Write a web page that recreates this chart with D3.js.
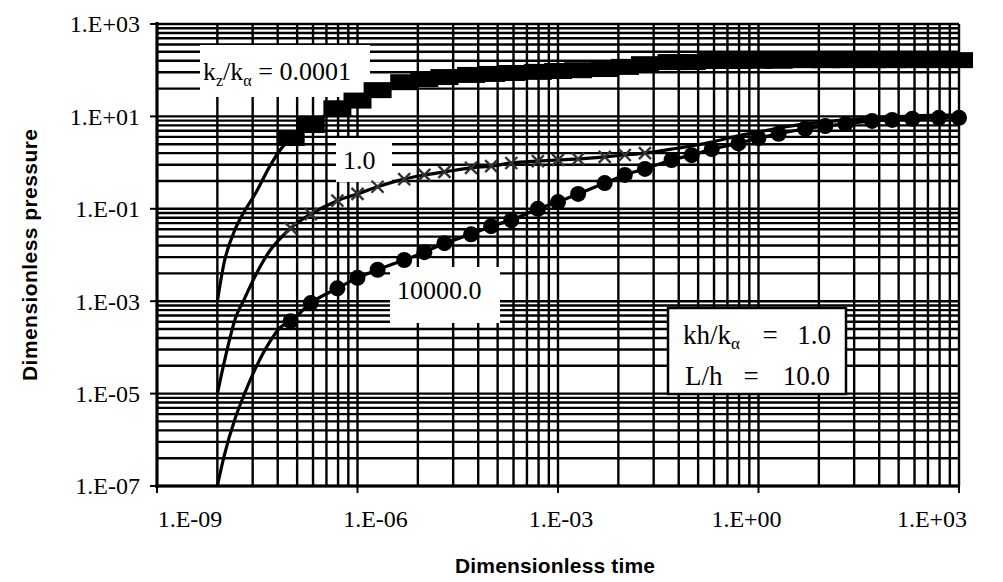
<!DOCTYPE html>
<html><head><meta charset="utf-8">
<script src="https://cdn.jsdelivr.net/npm/d3@7"></script>
<style>
body{margin:0;background:#fff}
.serif{font-family:"Liberation Serif";}
.sans{font-family:"Liberation Sans",Arial,Helvetica,sans-serif;font-weight:bold;}
</style>
</head><body>
<svg id="chart" width="1003" height="582"></svg>
<script>
// ---- axis data ----
const xMajor = [1e-9, 1e-6, 1e-3, 1, 1e3];
const xTickLabels = ["1.E-09", "1.E-06", "1.E-03", "1.E+00", "1.E+03"];
const yMajor = [1e-7, 1e-5, 1e-3, 1e-1, 1e1, 1e3];
const yTickLabels = ["1.E-07", "1.E-05", "1.E-03", "1.E-01", "1.E+01", "1.E+03"];
const minorK = [2, 3, 4, 5, 6, 7, 8, 9];

// ---- series data (dimensionless time / pressure) ----
const timeEarly = [8e-9, 1e-8, 1.5e-8, 2e-8, 3e-8, 5e-8, 7e-8];
const timeMarked = [1e-7, 2e-7, 5e-7, 1e-6, 2e-6, 5e-6, 1e-5, 2e-5, 5e-5, 1e-4, 2e-4, 5e-4,
  1e-3, 2e-3, 5e-3, 1e-2, 2e-2, 5e-2, 1e-1, 2e-1, 5e-1, 1, 2, 5, 10, 20, 50, 100, 200, 500, 1000];

// kz/ka = 0.0001
const pEarly_0001 = [1.0e-3, 6.4e-3, 0.038, 0.085, 0.22, 0.89, 1.9];
const pMarked_0001 = [3.4, 6.5, 15, 22, 37, 55, 64, 71, 79, 83, 87, 92, 96, 100, 106, 118, 135,
  150, 150, 158, 158, 160, 160, 165, 165, 165, 165, 165, 165, 165, 165];
// kz/ka = 1.0
const pEarly_1 = [1e-5, 4.4e-5, 4.4e-4, 1.07e-3, 3.7e-3, 0.013, 0.023];
const pMarked_1 = [0.038, 0.077, 0.15, 0.21, 0.30, 0.44, 0.54, 0.63, 0.77, 0.84, 0.98, 1.08, 1.14,
  1.2, 1.33, 1.46, 1.6, 1.96, 2.3, 2.8, 3.8, 4.6, 5.6, 6.9, 7.6, 8.4, 9.3, 9.8, 10.2, 10.7, 10.7];
const crossCount_1 = 17; // x markers drawn on the first 17 marked points
// kz/ka = 10000.0
const pEarly_10000 = [1e-7, 4.2e-7, 3.1e-6, 9.3e-6, 3.6e-5, 1.4e-4, 2.7e-4];
const pMarked_10000 = [3.7e-4, 9.1e-4, 1.9e-3, 3.2e-3, 4.8e-3, 7.8e-3, 0.0115, 0.018, 0.028, 0.042,
  0.057, 0.1, 0.14, 0.21, 0.36, 0.54, 0.73, 1.14, 1.45, 1.96, 2.6, 3.4, 4.2, 5.4, 6.2, 6.9, 8.0,
  8.4, 8.9, 9.3, 9.3];

const svg = d3.select("#chart");
const x = d3.scaleLog().domain([1e-9, 1e3]).range([157, 959]);
const y = d3.scaleLog().domain([1e-7, 1e3]).range([486, 24]);

svg.append("rect").attr("width", 1003).attr("height", 582).attr("fill", "#fff");

// ---- grid (minor lines at log fractions of each labelled block) ----
const xMinor = [], yMinor = [];
xMajor.slice(0, -1).forEach(a => minorK.forEach(k => xMinor.push(a * Math.pow(k, 3))));
yMajor.slice(0, -1).forEach(a => minorK.forEach(k => yMinor.push(a * Math.pow(k, 2))));

const grid = svg.append("g").attr("stroke", "#000");
grid.selectAll(".vx").data(xMinor.concat(xMajor)).enter().append("line")
  .attr("x1", d => x(d)).attr("x2", d => x(d))
  .attr("y1", y(1e-7)).attr("y2", y(1e3)).attr("stroke-width", 2.4);
grid.selectAll(".hy").data(yMinor.concat(yMajor)).enter().append("line")
  .attr("y1", d => y(d)).attr("y2", d => y(d))
  .attr("x1", x(1e-9)).attr("x2", x(1e3)).attr("stroke-width", 2.4);

// axes lines
svg.append("line").attr("x1", x(1e-9)).attr("x2", x(1e-9)).attr("y1", y(1e3) - 2).attr("y2", y(1e-7) + 2)
  .attr("stroke", "#000").attr("stroke-width", 3);
svg.append("line").attr("x1", x(1e-9) - 2).attr("x2", x(1e3) + 1).attr("y1", y(1e-7)).attr("y2", y(1e-7))
  .attr("stroke", "#000").attr("stroke-width", 3);

// tick marks
svg.selectAll(".ytk").data(yMajor).enter().append("line")
  .attr("x1", x(1e-9) - 7).attr("x2", x(1e-9)).attr("y1", d => y(d)).attr("y2", d => y(d))
  .attr("stroke", "#000").attr("stroke-width", 2);
svg.selectAll(".xtk").data(xMajor).enter().append("line")
  .attr("y1", y(1e-7)).attr("y2", y(1e-7) + 7).attr("x1", d => x(d)).attr("x2", d => x(d))
  .attr("stroke", "#000").attr("stroke-width", 2);

// tick labels
svg.selectAll(".ylab").data(yMajor).enter().append("text").attr("class", "serif")
  .attr("x", 140).attr("y", d => y(d)).attr("dy", "0.35em")
  .attr("text-anchor", "end").attr("font-size", 24)
  .attr("fill", "#000").text((d, i) => yTickLabels[i]);
const xLabelPos = d3.scalePoint().domain(xTickLabels).range([190, 932]);
svg.selectAll(".xlab").data(xTickLabels).enter().append("text").attr("class", "serif")
  .attr("x", d => xLabelPos(d)).attr("y", 527)
  .attr("text-anchor", "middle").attr("font-size", 24)
  .attr("fill", "#000").text(d => d);

// axis titles
svg.append("text").attr("class", "sans").attr("transform", "translate(37,255) rotate(-90)")
  .attr("text-anchor", "middle").attr("font-size", 21).attr("textLength", 252).attr("lengthAdjust", "spacing")
  .text("Dimensionless pressure");
svg.append("text").attr("class", "sans").attr("x", 555).attr("y", 573)
  .attr("text-anchor", "middle").attr("font-size", 21).attr("textLength", 200).attr("lengthAdjust", "spacing")
  .text("Dimensionless time");

// ---- label boxes ----
const boxes = [
  {x: 200, y: 45, w: 170, h: 52},
  {x: 336, y: 138, w: 56, h: 44},
  {x: 390, y: 267, w: 110, h: 56}
];
svg.selectAll(".wbox").data(boxes).enter().append("rect")
  .attr("x", d => d.x).attr("y", d => d.y).attr("width", d => d.w).attr("height", d => d.h)
  .attr("fill", "#fff");

// ---- curves ----
const line = d3.line().x(d => x(d[0])).y(d => y(d[1])).curve(d3.curveMonotoneX);
function pts(tE, pE, tM, pM) {
  return tE.map((t, i) => [t, pE[i]]).concat(tM.map((t, i) => [t, pM[i]]));
}
[pts(timeEarly, pEarly_0001, timeMarked, pMarked_0001),
 pts(timeEarly, pEarly_1, timeMarked, pMarked_1),
 pts(timeEarly, pEarly_10000, timeMarked, pMarked_10000)].forEach(s => {
  svg.append("path").datum(s).attr("d", line).attr("fill", "none")
    .attr("stroke", "#000").attr("stroke-width", 3.2);
});

// markers: rectangles on 0.0001 curve
svg.selectAll(".rm").data(timeMarked.map((t, i) => [t, pMarked_0001[i]])).enter().append("rect")
  .attr("x", d => x(d[0]) - 14).attr("y", d => y(d[1]) - 8)
  .attr("width", 28).attr("height", 16).attr("fill", "#000");
// crosses on 1.0 curve
const crossPts = timeMarked.slice(0, crossCount_1).map((t, i) => [t, pMarked_1[i]]);
svg.selectAll(".xm").data(crossPts).enter().append("path")
  .attr("d", d => {
    const cx = x(d[0]), cy = y(d[1]), r = 6;
    return `M${cx - r},${cy - r}L${cx + r},${cy + r}M${cx - r},${cy + r}L${cx + r},${cy - r}`;
  })
  .attr("stroke", "#333").attr("stroke-width", 2.4).attr("fill", "none");
// circles on 10000 curve
svg.selectAll(".cm").data(timeMarked.map((t, i) => [t, pMarked_10000[i]])).enter().append("circle")
  .attr("cx", d => x(d[0])).attr("cy", d => y(d[1])).attr("r", 8).attr("fill", "#000");

// ---- curve labels ----
const lab1 = svg.append("text").attr("class", "serif").attr("x", 203).attr("y", 80)
  .attr("font-size", 26).attr("fill", "#000");
lab1.append("tspan").text("k");
lab1.append("tspan").attr("font-size", 16).attr("dy", 6).text("z");
lab1.append("tspan").attr("dy", -6).text("/k");
lab1.append("tspan").attr("font-size", 16).attr("dy", 6).text("α");
lab1.append("tspan").attr("dy", -6).text(" = 0.0001");

svg.append("text").attr("class", "serif").attr("x", 343).attr("y", 169)
  .attr("font-size", 26).attr("fill", "#000").text("1.0");
svg.append("text").attr("class", "serif").attr("x", 397).attr("y", 299)
  .attr("font-size", 26).attr("fill", "#000").text("10000.0");

// ---- parameter box ----
svg.append("rect").attr("x", 668).attr("y", 308).attr("width", 178).attr("height", 86)
  .attr("fill", "#fff").attr("stroke", "#000").attr("stroke-width", 2.5);
const p1 = svg.append("text").attr("class", "serif").attr("x", 683).attr("y", 344)
  .attr("font-size", 27).attr("fill", "#000");
p1.append("tspan").text("kh/k");
p1.append("tspan").attr("font-size", 17).attr("dy", 5).text("α");
svg.append("text").attr("class", "serif").attr("x", 770).attr("y", 344).attr("text-anchor", "middle")
  .attr("font-size", 27).text("=");
svg.append("text").attr("class", "serif").attr("x", 831).attr("y", 344).attr("text-anchor", "end")
  .attr("font-size", 27).text("1.0");
svg.append("text").attr("class", "serif").attr("x", 685).attr("y", 385)
  .attr("font-size", 27).text("L/h");
svg.append("text").attr("class", "serif").attr("x", 751).attr("y", 385).attr("text-anchor", "middle")
  .attr("font-size", 27).text("=");
svg.append("text").attr("class", "serif").attr("x", 830).attr("y", 385).attr("text-anchor", "end")
  .attr("font-size", 27).text("10.0");
</script>
</body></html>
